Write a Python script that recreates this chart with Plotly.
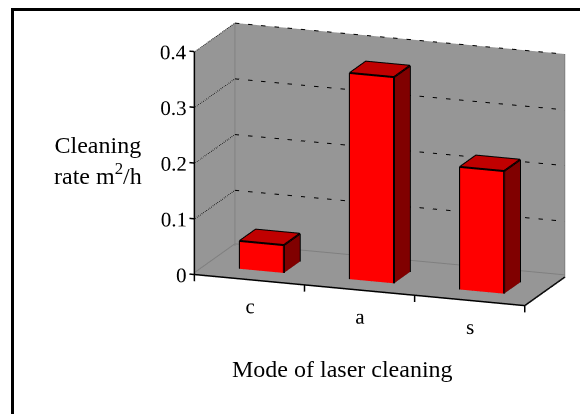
import plotly.graph_objects as go

# ---- data ----
modes = ["c", "a", "s"]
rates = [0.05, 0.37, 0.22]
rate_ticks = [0, 0.1, 0.2, 0.3, 0.4]
rate_tick_labels = ["0", "0.1", "0.2", "0.3", "0.4"]
x_title = "Mode of laser cleaning"
y_title = "Cleaning<br>rate m<sup>2</sup>/h"

# ---- style ----
FONT = "Liberation Serif, Times New Roman, serif"
FRONT, TOP, SIDE = "#ff0000", "#c00000", "#800000"
WALL = "#969696"
WALL_EDGE = "#7f7f7f"
BAR_W = 0.4
DEPTH = (0.3, 0.7)
YMAX = 1.0
ZMAX = rate_ticks[-1]
TICK_LEN_X = 0.045     # value-axis tick length (category units)
LABEL_X = 0.108        # anchor of the value labels, measured from the wall
LABEL_DROP = 0.052     # category labels sit this far below the floor (value units)
PAD_X, PAD_Y, PAD_Z = 0.06, 0.03, 0.07   # room in the scene outside the walls
SLACK = 0.01           # keeps the walls clear of the scene's clip bounds
EPS = 0.004
FRONT_Y = -0.012       # axis lines are drawn just in front of the walls

cats = list(range(1, len(modes) + 1))
XMIN, XMAX = 0.5, len(modes) + 0.5
bounds = [XMIN + i for i in range(len(modes) + 1)]

FLAT = dict(ambient=1, diffuse=0, specular=0, fresnel=0, roughness=1)
fig = go.Figure()

# ---- walls and floor ----
wx = [XMIN, XMAX, XMAX, XMIN,   XMIN, XMIN, XMIN, XMIN,   XMIN, XMAX, XMAX, XMIN]
wy = [YMAX, YMAX, YMAX, YMAX,   0, YMAX, YMAX, 0,         0, 0, YMAX, YMAX]
wz = [0, 0, ZMAX, ZMAX,         0, 0, ZMAX, ZMAX,         0, 0, 0, 0]
wi, wj, wk = [], [], []
for q in range(3):
    b = 4 * q
    wi += [b, b]; wj += [b + 1, b + 2]; wk += [b + 2, b + 3]
fig.add_trace(go.Mesh3d(x=wx, y=wy, z=wz, i=wi, j=wj, k=wk, color=WALL,
                        flatshading=True, lighting=FLAT, hoverinfo="skip",
                        showscale=False))

# ---- bars as boxes ----
vx, vy, vz, I, J, K, fc = [], [], [], [], [], [], []
ex, ey, ez = [], [], []
for xc, h in zip(cats, rates):
    x0, x1 = xc - BAR_W / 2, xc + BAR_W / 2
    y0, y1 = DEPTH
    base = len(vx)
    corners = [(x0, y0, 0), (x1, y0, 0), (x1, y1, 0), (x0, y1, 0),
               (x0, y0, h), (x1, y0, h), (x1, y1, h), (x0, y1, h)]
    for c in corners:
        vx.append(c[0]); vy.append(c[1]); vz.append(c[2])
    faces = [((0, 1, 5), FRONT), ((0, 5, 4), FRONT),
             ((4, 5, 6), TOP), ((4, 6, 7), TOP),
             ((1, 2, 6), SIDE), ((1, 6, 5), SIDE),
             ((0, 3, 7), SIDE), ((0, 7, 4), SIDE),
             ((3, 2, 6), SIDE), ((3, 6, 7), SIDE),
             ((0, 1, 2), SIDE), ((0, 2, 3), SIDE)]
    for (a, b, c), col in faces:
        I.append(base + a); J.append(base + b); K.append(base + c); fc.append(col)
    # visible outline edges
    for path in [(0, 1, 5, 4, 0), (4, 7, 6, 5), (6, 2, 1)]:
        for p in path:
            ex.append(corners[p][0]); ey.append(corners[p][1]); ez.append(corners[p][2])
        ex.append(None); ey.append(None); ez.append(None)

fig.add_trace(go.Mesh3d(
    x=vx, y=vy, z=vz, i=I, j=J, k=K, facecolor=fc, flatshading=True,
    lighting=FLAT, hoverinfo="skip", showscale=False))
fig.add_trace(go.Scatter3d(x=ex, y=ey, z=ez, mode="lines",
                           line=dict(color="black", width=4), hoverinfo="skip"))

# ---- wall edges ----
fig.add_trace(go.Scatter3d(
    x=[XMIN + EPS, XMIN + EPS, None, XMAX, XMAX, None, XMIN, XMAX, None, XMIN + EPS, XMIN + EPS],
    y=[YMAX - EPS, YMAX - EPS, None, YMAX - EPS, YMAX - EPS, None, YMAX - EPS, YMAX - EPS, None, 0, YMAX],
    z=[0, ZMAX, None, 0, ZMAX, None, EPS, EPS, None, EPS, EPS],
    mode="lines", line=dict(color=WALL_EDGE, width=2), hoverinfo="skip"))

# ---- dotted gridlines on side and back walls ----
gx, gy, gz = [], [], []
for t in rate_ticks[1:]:
    gx += [XMIN + EPS, XMIN + EPS, XMAX, None]
    gy += [0, YMAX - EPS, YMAX - EPS, None]
    gz += [t, t, t, None]
fig.add_trace(go.Scatter3d(x=gx, y=gy, z=gz, mode="lines",
                           line=dict(color="black", width=2, dash="dot"), hoverinfo="skip"))

# ---- black axis lines, floor border, tick marks ----
ax = [XMIN, XMIN, None, XMIN, XMAX, None, XMAX, XMAX, None]
ay = [FRONT_Y, FRONT_Y, None, FRONT_Y, FRONT_Y, None, FRONT_Y, YMAX, None]
az = [0, ZMAX, None, 0, 0, None, 0, 0, None]
for b in bounds:
    ax += [b, b, None]; ay += [FRONT_Y, FRONT_Y, None]; az += [0, -0.012, None]
for t in rate_ticks:
    ax += [XMIN, XMIN - TICK_LEN_X, None]; ay += [FRONT_Y, FRONT_Y, None]; az += [t, t, None]
fig.add_trace(go.Scatter3d(x=ax, y=ay, z=az, mode="lines",
                           line=dict(color="black", width=3), hoverinfo="skip"))

# ---- tick labels ----
fig.add_trace(go.Scatter3d(
    x=[XMIN + LABEL_X] * len(rate_ticks), y=[0] * len(rate_ticks), z=rate_ticks,
    mode="text", text=rate_tick_labels, textposition="middle left",
    textfont=dict(family=FONT, size=21, color="black"), hoverinfo="skip"))
fig.add_trace(go.Scatter3d(
    x=cats, y=[0] * len(cats), z=[-LABEL_DROP] * len(cats),
    mode="text", text=modes, textposition="middle center",
    textfont=dict(family=FONT, size=21, color="black"), hoverinfo="skip"))

# ---- scene geometry ----
sx, sy, sz = 1.698 / (XMAX - XMIN), 0.562 / YMAX, 1.115 / ZMAX   # scene units per data unit
xr = [XMIN - PAD_X, XMAX + SLACK]
yr = [-PAD_Y, YMAX + SLACK]
zr = [-PAD_Z, ZMAX + SLACK]
mid = lambda r: (r[0] + r[1]) / 2
look = (-0.0720 + sx * ((XMIN + XMAX) / 2 - mid(xr)),
        -0.0836 + sy * (YMAX / 2 - mid(yr)),
        -0.2000 + sz * (ZMAX / 2 - mid(zr)))
view_dir = (0.330, -0.908, 0.259)
eye = tuple(c + 3 * d for c, d in zip(look, view_dir))

axis_common = dict(showbackground=False, showgrid=False, zeroline=False,
                   showspikes=False, showline=False, ticks="",
                   showticklabels=False, title=dict(text=""))
fig.update_layout(
    width=580, height=414, margin=dict(l=0, r=0, t=0, b=0),
    paper_bgcolor="white", showlegend=False,
    scene=dict(
        domain=dict(x=[140 / 580, 1.0], y=[0.0, 1.0]),
        xaxis=dict(range=xr, **axis_common),
        yaxis=dict(range=yr, **axis_common),
        zaxis=dict(range=zr, **axis_common),
        aspectmode="manual",
        aspectratio=dict(x=sx * (xr[1] - xr[0]), y=sy * (yr[1] - yr[0]),
                         z=sz * (zr[1] - zr[0])),
        camera=dict(eye=dict(x=eye[0], y=eye[1], z=eye[2]),
                    center=dict(x=look[0], y=look[1], z=look[2]),
                    up=dict(x=0, y=0, z=1), projection=dict(type="orthographic")),
    ),
    annotations=[
        dict(text=y_title, x=98 / 580, y=1 - 161 / 414, xref="paper", yref="paper",
             xanchor="center", yanchor="middle",
             showarrow=False, align="center", font=dict(family=FONT, size=24, color="black")),
        dict(text=x_title, x=342 / 580, y=1 - 369 / 414, xref="paper", yref="paper",
             xanchor="center", yanchor="middle",
             showarrow=False, font=dict(family=FONT, size=24, color="black")),
    ],
    shapes=[dict(type="rect", xref="paper", yref="paper", x0=12.5 / 580, x1=1.05,
                 y0=-0.05, y1=1 - 9.5 / 414, line=dict(color="black", width=3))],
)
fig.write_html("out.html")
